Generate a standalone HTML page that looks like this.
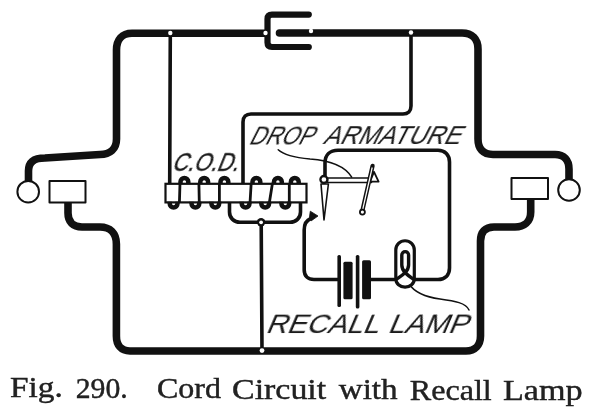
<!DOCTYPE html>
<html><head><meta charset="utf-8">
<style>
html,body{margin:0;padding:0;background:#fff;}
body{width:600px;height:418px;overflow:hidden;position:relative;}
svg{position:absolute;left:0;top:0;}
text{will-change:transform;}
.lbl{font-family:"Liberation Sans",sans-serif;fill:#1a1a1a;}
.cap{font-family:"Liberation Serif",serif;fill:#222;}
</style></head>
<body>
<svg width="600" height="418" viewBox="0 0 600 418">
<g fill="none" stroke="#111" stroke-linecap="round" stroke-linejoin="round">
  <!-- thick outer wires -->
  <g stroke-width="7.6">
    <!-- top-left -->
    <path d="M28.5 181 V171 C28.5 162 34 158 45 158 L100 154.5 C110 154.5 116.5 149 116.5 139 V50 C116.5 40 122 33.2 132 33.2 H266"/>
    <!-- connector C -->
    <path d="M308.8 14.6 H272 C269 14.6 267.5 16 267.5 19 V42.5 C267.5 45.5 269 47 272 47 H308.8" stroke-width="6.2"/>
    <!-- top-right -->
    <path d="M279.5 33 H462 C472 33 478 39 478 49 V139 C478 149 483 154.5 493 154.5 H555 C564 154.5 569 160 569 169 V179"/>
    <!-- bottom loop -->
    <path d="M68 203 V213 C68 222 73 227 82 227 H100 C110 227 116.4 233 116.4 244 V336 C116.4 345 121 351 130 351 H466 C475 351 480.5 345 480.5 336 V241 C480.5 232 485 227 494 227 H515 C524 227 530.7 222 530.7 212 V199"/>
  </g>
  <!-- plugs -->
  <g stroke-width="2">
    <circle cx="28.2" cy="191.7" r="10.8" fill="#fff"/>
    <rect x="49.5" y="181" width="36" height="21.5" fill="#fff"/>
    <circle cx="569" cy="190" r="10.8" fill="#fff"/>
    <rect x="511.5" y="178" width="36.5" height="21" fill="#fff"/>
  </g>
  <!-- thin wires -->
  <g stroke-width="3.6">
    <path d="M170.3 33 L169.7 184"/>
    <path d="M411 33 V106 C411 111 408 114 403 114 H251 C246 114 243 117 243 122 V184"/>
    <path d="M261.2 222 L262 351"/>
    <path d="M229.5 203 V212 C229.5 218 234 222.3 240 222.3 H290 C296 222.3 300.5 218 300.5 212 V203"/>
    <path d="M325 175.5 V163 C325 155 330 150.3 338 150.3 H438 C445 150.3 449.5 155 449.5 162 V268 C449.5 275 445 279.5 438 279.5 H415"/>
    <path d="M394 279.5 H371"/>
    <path d="M338 279.5 H314 C308 279.5 304.2 276 304.2 270 V230 C304.2 224 307 220 311 218.5"/>
  </g>
</g>
<!-- junction dots -->
<g fill="#fff" stroke="none">
  <circle cx="265.5" cy="33" r="2.2"/>
  <circle cx="311" cy="31" r="2.2"/>
  <circle cx="170.3" cy="33" r="2.2"/>
  <circle cx="411" cy="32.5" r="2.2"/>
</g>
<circle cx="261.1" cy="222.3" r="4.2" fill="#111"/>
<g fill="#fff" stroke="none">
  <circle cx="261.1" cy="222.3" r="1.9"/>
  <circle cx="262" cy="350.6" r="2.4"/>
</g>

<!-- coil bar -->
<rect x="165.5" y="183.8" width="141" height="18.6" fill="#fff" stroke="#111" stroke-width="2.2"/>
<g fill="none" stroke="#111" stroke-width="4.5" stroke-linecap="butt">
<path d="M180.50 184 V181.85 A3.9 3.9 0 0 1 188.30 181.85 V184 M169.70 201.8 V203.6 A3.9 3.9 0 0 0 177.50 203.6 V201.8 M200.30 184 V181.85 A3.9 3.9 0 0 1 208.10 181.85 V184 M191.50 201.8 V203.6 A3.9 3.9 0 0 0 199.30 203.6 V201.8 M220.50 184 V181.85 A3.9 3.9 0 0 1 228.30 181.85 V184 M211.40 201.8 V203.6 A3.9 3.9 0 0 0 219.20 203.6 V201.8 M252.50 184 V181.85 A3.9 3.9 0 0 1 260.30 181.85 V184 M241.70 201.8 V203.6 A3.9 3.9 0 0 0 249.50 203.6 V201.8 M274.00 184 V181.85 A3.9 3.9 0 0 1 281.80 181.85 V184 M261.30 201.8 V203.6 A3.9 3.9 0 0 0 269.10 203.6 V201.8 M290.90 184 V181.85 A3.9 3.9 0 0 1 298.70 181.85 V184 M281.40 201.8 V203.6 A3.9 3.9 0 0 0 289.20 203.6 V201.8"/>
</g>
<g fill="none" stroke="#111" stroke-width="2.8" stroke-linecap="butt">
<path d="M180 183 L179.4 203 M198.9 183 L199.3 203 M219.4 183 L219.4 203 M251.2 183 L250 203 M272.5 183 L269.3 203 M289.3 183 L289.3 203"/>
</g>
<!-- armature -->
<g stroke="#111" stroke-linejoin="round">
  <path d="M321 184 L328.4 184 L324 220 Z" fill="#fff" stroke-width="1.6"/>
  <rect x="327.5" y="178" width="44" height="4.4" fill="#fff" stroke-width="1.5"/>
  <path d="M374 171.8 L378.6 181.6 L370 181.6 Z" fill="#fff" stroke-width="1.8"/>
  <circle cx="323.9" cy="179.5" r="3.5" fill="#fff" stroke-width="2.3"/>
  <path d="M372.6 165.8 L362.4 210.5" fill="none" stroke-width="4.2" stroke-linecap="round"/>
  <path d="M372.2 167.5 L362.8 209" fill="none" stroke="#fff" stroke-width="1.2"/>
  <circle cx="362.4" cy="212.1" r="2.5" fill="#fff" stroke-width="1.8"/>
  <path d="M309.4 217.4 L310.3 211.2 L318 216 L311.3 220.8 Z" fill="#111" stroke-width="0.8"/>
</g>
<!-- leaders -->
<g fill="none" stroke="#111" stroke-width="1.5" stroke-linecap="round">
  <path d="M278.2 149.7 C284 155 295 157.5 310 159 C330 160.5 345 166 351.7 177.2"/>
  <path d="M409 284 C415 293 425 297 440 299 C455 301 466 303 469 310"/>
</g>
<!-- battery -->
<g fill="#111" stroke="none">
  <rect x="337.4" y="255" width="3.6" height="52" rx="1.6"/>
  <rect x="343.4" y="261.7" width="9.2" height="37.6" rx="1.5"/>
  <rect x="355.8" y="255" width="3.6" height="53.5" rx="1.6"/>
  <rect x="362.1" y="260.3" width="8.9" height="39" rx="1.5"/>
</g>
<!-- lamp -->
<g fill="none" stroke="#111" stroke-width="3.2" stroke-linejoin="round">
  <path d="M395.8 279 V250 A9.25 9.25 0 0 1 414.3 250 V279 A9.25 8.2 0 0 1 395.8 279 Z" fill="#fff"/>
  <path d="M414 279.5 C409 276 401.8 272 401.8 265 V255 A3.4 3.4 0 0 1 408.6 255 V265 C408.6 272 401 276 396 279.5" stroke-width="3.4"/>
</g>
<!-- labels -->
<g class="lbl" font-size="26">
<text transform="translate(171.3,170.8) skewX(-22) scale(0.835,1)" stroke="#1a1a1a" stroke-width="0.35">C.O.D.</text>
<text transform="translate(248,144.4) skewX(-27) scale(0.847,1)">DROP</text>
<text transform="translate(322.3,144) skewX(-27) scale(0.949,1)">ARMATURE</text>
</g>
<g class="lbl" font-size="27">
<text transform="translate(265,333.3) skewX(-23) scale(1.075,1)">RECALL</text>
<text transform="translate(387,333.3) skewX(-23) scale(1.087,1)">LAMP</text>
</g>
<g class="cap" font-size="28.4" stroke="#1a1a1a" stroke-width="0.4">
<text transform="translate(10,397.4) scale(1.172,1)">Fig.</text>
<text transform="translate(75.7,397.75) scale(1.047,1)">290.</text>
<text transform="translate(157,398.1) scale(1.127,1)">Cord</text>
<text transform="translate(232,398.5) scale(1.195,1)">Circuit</text>
<text transform="translate(338.7,399.1) scale(1.168,1)">with</text>
<text transform="translate(409.7,399.5) scale(1.132,1)">Recall</text>
<text transform="translate(503,400) scale(1.203,1)">Lamp</text>
</g>
</svg>
</body></html>
